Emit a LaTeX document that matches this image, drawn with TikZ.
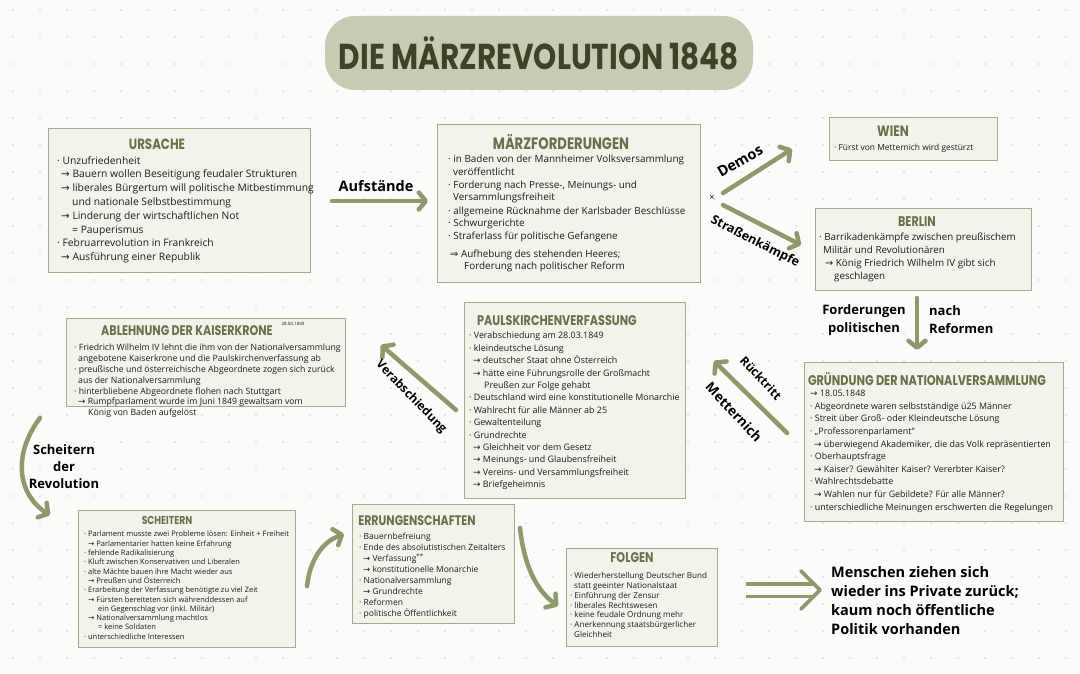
\documentclass[tikz,border=0pt]{standalone}
\usepackage{fontspec}
\usepackage{graphicx}
\setmainfont{Open Sans}
\newfontfamily\headfont{Poppins}
\newfontfamily\symfont{DejaVu Sans}
\usetikzlibrary{arrows.meta,calc}
\definecolor{bgc}{HTML}{FBFBF9}
\definecolor{dotc}{HTML}{D2D2CC}
\definecolor{boxc}{HTML}{F3F3EC}
\definecolor{boxline}{HTML}{A4A987}
\definecolor{headc}{HTML}{6B7048}
\definecolor{arrowc}{HTML}{8E9A6A}
\definecolor{titlebg}{HTML}{C8CBB2}
\definecolor{titlec}{HTML}{3E4325}
\definecolor{bodyc}{HTML}{1C1C1C}
\newcommand\ar{{\symfont\char"2192}}
\newcommand\Ar{{\symfont\char"21D2}}
\newcommand\hd[2]{\scalebox{0.8}[1]{\fontsize{#1}{#1}\selectfont\headfont\bfseries #2}}
\newcommand\ind[1]{\hspace*{#1pt}}
\begin{document}
\begin{tikzpicture}[x=1pt,y=-1pt,
  box/.style n args={2}{draw=boxline, line width=1.3pt, fill=boxc, anchor=north west, inner sep=0pt, minimum width=#1pt, minimum height=#2pt},
  hdn/.style={text=headc, inner sep=0pt},
  tx/.style n args={2}{anchor=north west, align=left, inner sep=0pt, text=bodyc, font=\fontsize{#1}{#2}\selectfont},
  lbl/.style n args={2}{text=black, inner sep=0pt, align=center, font=\bfseries\fontsize{#1}{#2}\selectfont},
  arr/.style={draw=arrowc, line width=4.5pt, line cap=round, -{Straight Barb[length=7pt,width=17pt,round]}}
]
\useasboundingbox (0,0) rectangle (1080,674);
\fill[bgc] (0,0) rectangle (1080,674);
\foreach \i in {0,...,39}{\foreach \j in {0,...,24}{\fill[dotc] (13+27*\i,10+27*\j) circle (0.9);}}

% title
\node[fill=titlebg, rounded corners=30pt, minimum width=428pt, minimum height=74pt, inner sep=0pt, text=titlec] (title) at (539,53)
  {\raisebox{-3pt}{\scalebox{0.82}[1]{\fontsize{36}{36}\selectfont\headfont\bfseries DIE MÄRZREVOLUTION 1848}}};

% URSACHE
\node[box={262}{144}] (ursache) at (48,128) {};
\node[hdn] (ursacheH) at (157,144) {\hd{14.8}{URSACHE}};
\node[tx={10.3}{13.8}] (ursacheT) at (57,156) {%
· Unzufriedenheit\\
\ind{4}\ar\ Bauern wollen Beseitigung feudaler Strukturen\\
\ind{4}\ar\ liberales Bürgertum will politische Mitbestimmung\\
\ind{15}und nationale Selbstbestimmung\\
\ind{4}\ar\ Linderung der wirtschaftlichen Not\\
\ind{15}= Pauperismus\\
· Februarrevolution in Frankreich\\
\ind{4}\ar\ Ausführung einer Republik};

% MÄRZFORDERUNGEN
\node[box={263}{158}] (maerz) at (437,124) {};
\node[hdn] (maerzH) at (561,142) {\hd{16.5}{MÄRZFORDERUNGEN}};
\node[tx={9.9}{12.4}] (maerzT) at (448,155) {%
· in Baden von der Mannheimer Volksversammlung\\
\ind{5}veröffentlicht\\[1pt]
· Forderung nach Presse-, Meinungs- und\\
\ind{5}Versammlungsfreiheit\\[1pt]
· allgemeine Rücknahme der Karlsbader Beschlüsse\\
· Schwurgerichte\\
· Straferlass für politische Gefangene\\[6pt]
\ind{2}\Ar\ Aufhebung des stehenden Heeres;\\
\ind{16}Forderung nach politischer Reform};

% WIEN
\node[box={168}{43}] (wien) at (829,117) {};
\node[hdn] (wienH) at (893,131) {\hd{15}{WIEN}};
\node[tx={8.4}{10.5}] (wienT) at (834,144) {· Fürst von Metternich wird gestürzt};

% BERLIN
\node[box={216}{82}] (berlin) at (815,208) {};
\node[hdn] (berlinH) at (917,222) {\hd{14}{BERLIN}};
\node[tx={9.8}{12.8}] (berlinT) at (819,233) {%
· Barrikadenkämpfe zwischen preußischem\\
\ind{4}Militär und Revolutionären\\
\ind{6}\ar\ König Friedrich Wilhelm IV gibt sich\\
\ind{15}geschlagen};

% ABLEHNUNG
\node[box={279}{88}] (ablehnung) at (66,318) {};
\node[hdn] (ablehnungH) at (187,331) {\hd{13.9}{ABLEHNUNG DER KAISERKRONE}};
\node[text=bodyc, inner sep=0pt, font=\fontsize{4.5}{5}\selectfont] (ablehnungD) at (293,324) {28.04.1849};
\node[tx={8.7}{10.8}] (ablehnungT) at (74,344) {%
· Friedrich Wilhelm IV lehnt die ihm von der Nationalversammlung\\
\ind{4}angebotene Kaiserkrone und die Paulskirchenverfassung ab\\
· preußische und österreichische Abgeordnete zogen sich zurück\\
\ind{4}aus der Nationalversammlung\\
· hinterbliebene Abgeordnete flohen nach Stuttgart\\
\ind{4}\ar\ Rumpfparlament wurde im Juni 1849 gewaltsam vom\\
\ind{14}König von Baden aufgelöst};

% PAULSKIRCHENVERFASSUNG
\node[box={221}{196}] (pauls) at (464,302) {};
\node[hdn] (paulsH) at (557,321) {\hd{14}{PAULSKIRCHENVERFASSUNG}};
\node[tx={8.9}{12.4}] (paulsT) at (469,332) {%
· Verabschiedung am 28.03.1849\\
· kleindeutsche Lösung\\
\ind{4}\ar\ deutscher Staat ohne Österreich\\
\ind{4}\ar\ hätte eine Führungsrolle der Großmacht\\
\ind{15}Preußen zur Folge gehabt\\
· Deutschland wird eine konstitutionelle Monarchie\\
· Wahlrecht für alle Männer ab 25\\
· Gewaltenteilung\\
· Grundrechte\\
\ind{4}\ar\ Gleichheit vor dem Gesetz\\
\ind{4}\ar\ Meinungs- und Glaubensfreiheit\\
\ind{4}\ar\ Vereins- und Versammlungsfreiheit\\
\ind{4}\ar\ Briefgeheimnis};

% GRÜNDUNG
\node[box={259}{159}] (gruendung) at (804,362) {};
\node[hdn] (gruendungH) at (927,379) {\hd{14.1}{GRÜNDUNG DER NATIONALVERSAMMLUNG}};
\node[tx={8.9}{12.6}] (gruendungT) at (810,390) {%
\ar\ 18.05.1848\\
· Abgeordnete waren selbstständige ü25 Männer\\
· Streit über Groß- oder Kleindeutsche Lösung\\
· „Professorenparlament“\\
\ind{4}\ar\ überwiegend Akademiker, die das Volk repräsentierten\\
· Oberhauptsfrage\\
\ind{4}\ar\ Kaiser? Gewählter Kaiser? Vererbter Kaiser?\\
· Wahlrechtsdebatte\\
\ind{4}\ar\ Wahlen nur für Gebildete? Für alle Männer?\\
· unterschiedliche Meinungen erschwerten die Regelungen};

% SCHEITERN
\node[box={217}{137}] (scheitern) at (78,510) {};
\node[hdn] (scheiternH) at (167,520) {\hd{11.5}{SCHEITERN}};
\node[tx={7.5}{9.3}] (scheiternT) at (84,531) {%
· Parlament musste zwei Probleme lösen: Einheit + Freiheit\\
\ind{4}\ar\ Parlamentarier hatten keine Erfahrung\\
· fehlende Radikalisierung\\
· Kluft zwischen Konservativen und Liberalen\\
· alte Mächte bauen ihre Macht wieder aus\\
\ind{4}\ar\ Preußen und Österreich\\
· Erarbeitung der Verfassung benötigte zu viel Zeit\\
\ind{4}\ar\ Fürsten bereiteten sich währenddessen auf\\
\ind{14}ein Gegenschlag vor (inkl. Militär)\\
\ind{4}\ar\ Nationalversammlung machtlos\\
\ind{14}= keine Soldaten\\
· unterschiedliche Interessen};

% ERRUNGENSCHAFTEN
\node[box={162}{119}] (errungen) at (352,504) {};
\node[hdn] (errungenH) at (417,521) {\hd{13.8}{ERRUNGENSCHAFTEN}};
\node[tx={8.5}{11}] (errungenT) at (359,533) {%
· Bauernbefreiung\\
· Ende des absolutistischen Zeitalters\\
\ind{4}\ar\ Verfassung\textsuperscript{**}\\
\ind{4}\ar\ konstitutionelle Monarchie\\
· Nationalversammlung\\
\ind{4}\ar\ Grundrechte\\
· Reformen\\
· politische Öffentlichkeit};

% FOLGEN
\node[box={151}{98}] (folgen) at (566,548) {};
\node[hdn] (folgenH) at (632,558) {\hd{14}{FOLGEN}};
\node[tx={8.1}{9.9}] (folgenT) at (570,572) {%
· Wiederherstellung Deutscher Bund\\
\ind{4}statt geeinter Nationalstaat\\
· Einführung der Zensur\\
· liberales Rechtswesen\\
· keine feudale Ordnung mehr\\
· Anerkennung staatsbürgerlicher\\
\ind{4}Gleichheit};

% conclusion text
\node[anchor=north west, align=left, inner sep=0pt, text=black, font=\bfseries\fontsize{14.5}{19}\selectfont] (fazit) at (831,566) {%
Menschen ziehen sich\\
wieder ins Private zurück;\\
kaum noch öffentliche\\
Politik vorhanden};

% connectors
\coordinate (aufA) at (332,201);
\coordinate (aufB) at (428,201);
\draw[arr] (aufA) -- (aufB);
\node[lbl={14.5}{18}] (aufL) at (376,186) {Aufstände};

\node[inner sep=0pt, font=\fontsize{9}{9}\selectfont] (xmark) at (712,198) {×};
\coordinate (demA) at (723,193);
\coordinate (demB) at (792,149);
\draw[arr] (demA) -- (demB);
\node[lbl={14.5}{17}, rotate=30] (demL) at (740,161) {Demos};
\coordinate (strA) at (723,205);
\coordinate (strB) at (801,245);
\draw[arr] (strA) -- (strB);
\node[lbl={12.5}{15}, rotate=-27] (strL) at (755,242) {Straßenkämpfe};

\coordinate (forA) at (917,298);
\coordinate (forB) at (917,350);
\draw[arr] (forA) -- (forB);
\node[lbl={13}{18}] (forL) at (864,320) {Forderungen\\politischen};
\node[lbl={13}{18}, anchor=west, align=left] (forR) at (929,320) {nach\\Reformen};

\coordinate (rueA) at (787,433);
\coordinate (rueB) at (714,361);
\draw[arr] (rueA) -- (rueB);
\node[lbl={12}{14}, rotate=-47] (rueL) at (761,378) {Rücktritt};
\node[lbl={13.5}{15}, rotate=-47] (metL) at (734,412) {Metternich};

\coordinate (verA) at (456,410);
\coordinate (verB) at (381,345);
\draw[arr] (verA) -- (verB);
\node[lbl={12}{14}, rotate=-46] (verL) at (411,397) {Verabschiedung};

\coordinate (schA) at (40,418);
\coordinate (schB) at (50,515);
\draw[arr] (schA) .. controls (12,455) and (18,495) .. (schB);
\node[lbl={13}{17}] (schL) at (64,467) {Scheitern\\der\\Revolution};

\coordinate (sErA) at (307,586);
\coordinate (sErB) at (344,534);
\draw[arr] (sErA) .. controls (310,560) and (322,542) .. (sErB);

\coordinate (erFoA) at (520,528);
\coordinate (erFoB) at (558,606);
\draw[arr] (erFoA) .. controls (524,565) and (536,590) .. (erFoB);

\coordinate (dblA) at (746,590);
\coordinate (dblB) at (814,590);
\coordinate (dblT) at (820,590);
\draw[draw=arrowc, line width=3.5pt, double=bgc, double distance=9pt] (dblA) -- (dblB);
\draw[draw=arrowc, line width=3.8pt, line cap=round, line join=round] ($(dblT)+(-19,-19)$) -- (dblT) -- ($(dblT)+(-19,19)$);
\end{tikzpicture}
\end{document}
